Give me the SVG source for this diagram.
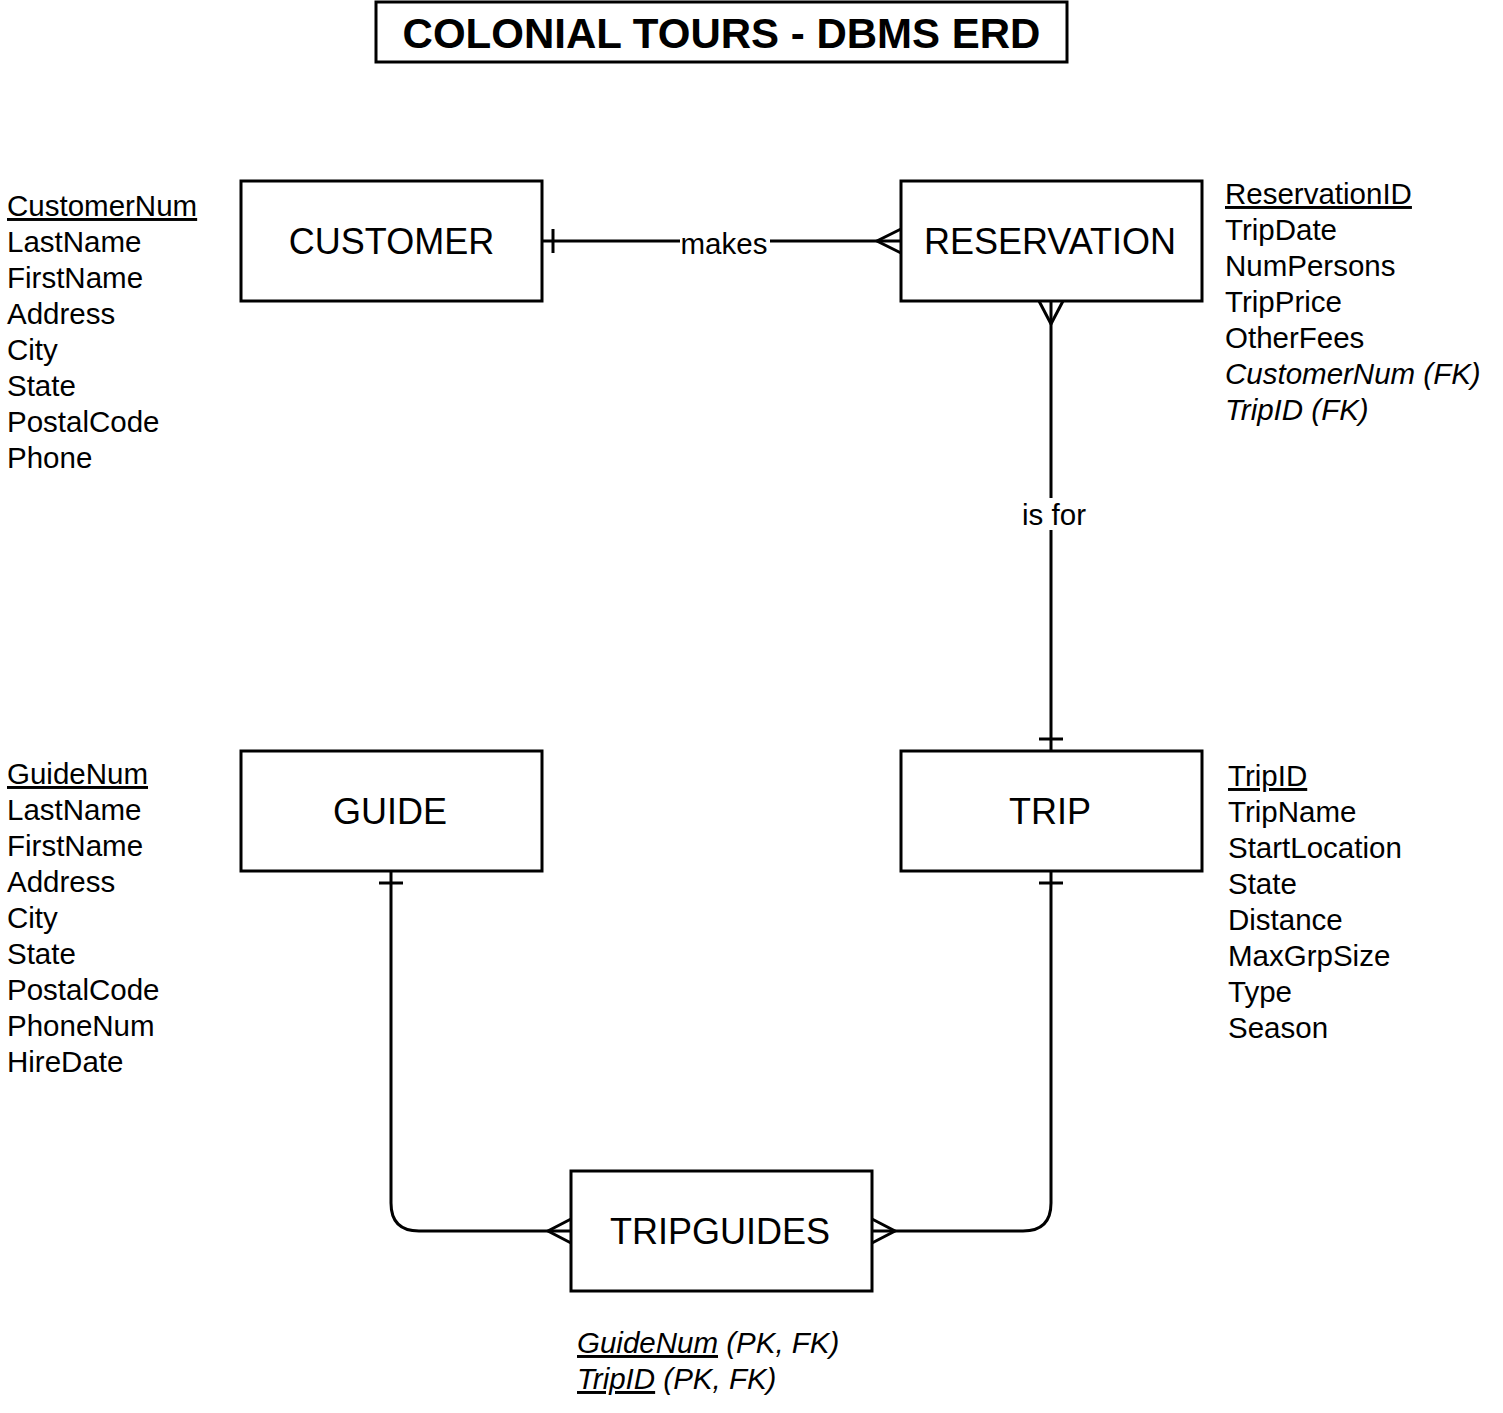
<svg xmlns="http://www.w3.org/2000/svg" width="1503" height="1413" viewBox="0 0 1503 1413">
<style>
.box{fill:#fff;stroke:#000;stroke-width:3}
.ent{font-family:"Liberation Sans",Arial,sans-serif;font-size:36px;fill:#000;text-anchor:middle}
.attr{font-family:"Liberation Sans",Arial,sans-serif;font-size:29.5px;fill:#000}
.it{font-style:italic}
.ul{text-decoration:underline}
.ln{fill:none;stroke:#000;stroke-width:3}
.lbl{font-family:"Liberation Sans",Arial,sans-serif;font-size:29.5px;fill:#000;text-anchor:middle}
.title{font-family:"Liberation Sans",Arial,sans-serif;font-size:42px;font-weight:bold;fill:#000;text-anchor:middle}
</style>
<rect width="1503" height="1413" fill="#fff"/>
<g id="title">
<rect x="376" y="2" width="691" height="60" class="box"/>
<text x="721.5" y="48" class="title">COLONIAL TOURS - DBMS ERD</text>
</g>
<g id="connectors">
<path class="ln" d="M542 241 H901"/>
<path class="ln" d="M553 229 V253"/>
<path class="ln" d="M901 229 L877 241 L901 253"/>
<rect x="680" y="226" width="90" height="30" fill="#fff"/>
<text x="724" y="254" class="lbl">makes</text>
<path class="ln" d="M1051 301 V751"/>
<path class="ln" d="M1039 301 L1051 324 L1063 301"/>
<path class="ln" d="M1039 739 H1063"/>
<rect x="1018" y="498" width="70" height="32" fill="#fff"/>
<text x="1054" y="525" class="lbl">is for</text>
<path class="ln" d="M391 871 V1203 Q391 1231 419 1231 H571"/>
<path class="ln" d="M379 883 H403"/>
<path class="ln" d="M571 1219 L548 1231 L571 1243"/>
<path class="ln" d="M1051 871 V1203 Q1051 1231 1023 1231 H872"/>
<path class="ln" d="M1039 883 H1063"/>
<path class="ln" d="M872 1219 L895 1231 L872 1243"/>
</g>
<g id="customer">
<rect x="241" y="181" width="301" height="120" class="box"/>
<text x="391.5" y="254" class="ent">CUSTOMER</text>
<text class="attr" x="7"><tspan x="7" y="216" class="ul">CustomerNum</tspan><tspan x="7" y="252">LastName</tspan><tspan x="7" y="288">FirstName</tspan><tspan x="7" y="324">Address</tspan><tspan x="7" y="360">City</tspan><tspan x="7" y="396">State</tspan><tspan x="7" y="432">PostalCode</tspan><tspan x="7" y="468">Phone</tspan></text>
</g>
<g id="reservation">
<rect x="901" y="181" width="301" height="120" class="box"/>
<text x="1050" y="254" class="ent">RESERVATION</text>
<text class="attr" x="1225"><tspan x="1225" y="204" class="ul">ReservationID</tspan><tspan x="1225" y="240">TripDate</tspan><tspan x="1225" y="276">NumPersons</tspan><tspan x="1225" y="312">TripPrice</tspan><tspan x="1225" y="348">OtherFees</tspan><tspan x="1225" y="384" class="it">CustomerNum (FK)</tspan><tspan x="1225" y="420" class="it">TripID (FK)</tspan></text>
</g>
<g id="guide">
<rect x="241" y="751" width="301" height="120" class="box"/>
<text x="390" y="824" class="ent">GUIDE</text>
<text class="attr" x="7"><tspan x="7" y="784" class="ul">GuideNum</tspan><tspan x="7" y="820">LastName</tspan><tspan x="7" y="856">FirstName</tspan><tspan x="7" y="892">Address</tspan><tspan x="7" y="928">City</tspan><tspan x="7" y="964">State</tspan><tspan x="7" y="1000">PostalCode</tspan><tspan x="7" y="1036">PhoneNum</tspan><tspan x="7" y="1072">HireDate</tspan></text>
</g>
<g id="trip">
<rect x="901" y="751" width="301" height="120" class="box"/>
<text x="1050" y="824" class="ent">TRIP</text>
<text class="attr" x="1228"><tspan x="1228" y="786" class="ul">TripID</tspan><tspan x="1228" y="822">TripName</tspan><tspan x="1228" y="858">StartLocation</tspan><tspan x="1228" y="894">State</tspan><tspan x="1228" y="930">Distance</tspan><tspan x="1228" y="966">MaxGrpSize</tspan><tspan x="1228" y="1002">Type</tspan><tspan x="1228" y="1038">Season</tspan></text>
</g>
<g id="tripguides">
<rect x="571" y="1171" width="301" height="120" class="box"/>
<text x="720" y="1244" class="ent">TRIPGUIDES</text>
<text class="attr it" x="577"><tspan x="577" y="1353" class="ul">GuideNum</tspan><tspan> (PK, FK)</tspan><tspan x="577" y="1389" class="ul">TripID</tspan><tspan> (PK, FK)</tspan></text>
</g>
</svg>
